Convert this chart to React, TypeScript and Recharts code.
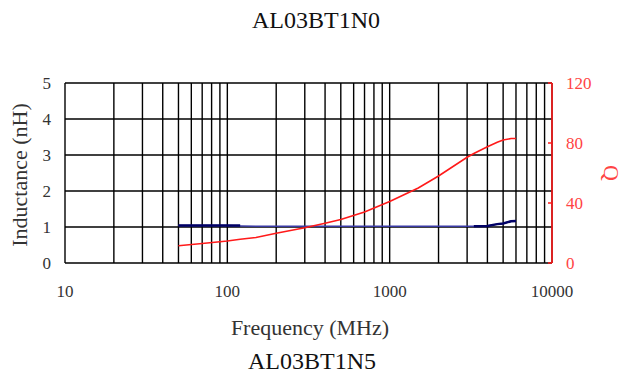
import { LineChart, Line, XAxis, YAxis, CartesianGrid } from "recharts";

const FREQ = [50, 70, 100, 120, 150, 200, 300, 400, 500, 700, 1000, 1500, 2000, 3000, 3300, 4000, 4600, 5000, 5600, 6000];
const Q_VALUES = [11.5, 13, 14.7, 15.8, 17, 19.8, 23.5, 26.5, 29, 34, 41, 50, 58, 70.5, 73, 77.5, 80.5, 82, 83, 83];
const L_VALUES = [1.04, 1.04, 1.04, 1.03, 1.02, 1.02, 1.02, 1.02, 1.02, 1.02, 1.02, 1.02, 1.02, 1.02, 1.02, 1.03, 1.08, 1.1, 1.16, 1.17];
const L_MEASURED = [1.04, 1.04, 1.04, 1.04, null, null, null, null, null, null, null, null, null, null, 1.02, 1.03, 1.08, 1.1, 1.16, 1.17];

const GRID_TICKS = [
  10, 20, 30, 40, 50, 60, 70, 80, 90,
  100, 200, 300, 400, 500, 600, 700, 800, 900,
  1000, 2000, 3000, 4000, 5000, 6000, 7000, 8000, 9000,
  10000,
];
const LABEL_TICKS = [10, 100, 1000, 10000];
const L_TICKS = [0, 1, 2, 3, 4, 5];
const Q_TICKS = [0, 40, 80, 120];

const data = FREQ.map((f, i) => ({ f, q: Q_VALUES[i], l: L_VALUES[i], lm: L_MEASURED[i] }));

const FONT = "'Liberation Serif', 'Times New Roman', serif";
const RED = "#ff1a1a";

function QTick(props: any) {
  const { x, y, payload } = props;
  return (
    <g>
      <line x1={x - 18} x2={x - 14} y1={y} y2={y} stroke={RED} strokeWidth={1.5} />
      <text x={x} y={y + 6} fill="#ff4444" fontSize={17} fontFamily={FONT} textAnchor="start">
        {payload.value}
      </text>
    </g>
  );
}

export default function App() {
  return (
    <div style={{ position: "absolute", left: 0, top: 0, width: 624, height: 377, background: "#fff" }}>
      <LineChart width={624} height={377} data={data} margin={{ top: 83, right: 0, bottom: 84, left: 0 }}>
        <CartesianGrid yAxisId="l" stroke="#000" strokeWidth={1.4} />
        <XAxis
          dataKey="f"
          type="number"
          scale="log"
          domain={[10, 10000]}
          ticks={GRID_TICKS}
          interval={0}
          tickFormatter={(v: number) => (LABEL_TICKS.includes(v) ? String(v) : "")}
          tickLine={false}
          axisLine={false}
          tickSize={0}
          tickMargin={22}
          height={30}
          tick={{ fill: "#333", fontSize: 17, fontFamily: FONT }}
          allowDataOverflow
        />
        <YAxis
          yAxisId="l"
          domain={[0, 5]}
          ticks={L_TICKS}
          width={65}
          tickLine={false}
          axisLine={false}
          tickSize={0}
          tickMargin={14}
          tick={{ fill: "#333", fontSize: 17, fontFamily: FONT }}
        />
        <YAxis
          yAxisId="q"
          orientation="right"
          domain={[0, 120]}
          ticks={Q_TICKS}
          width={72}
          tickLine={false}
          axisLine={{ stroke: RED, strokeWidth: 1.6 }}
          tickSize={0}
          tickMargin={14}
          tick={<QTick />}
        />
        <Line yAxisId="l" dataKey="l" stroke="#3a3aa6" strokeWidth={1.5} dot={false} isAnimationActive={false} />
        <Line yAxisId="l" dataKey="lm" stroke="#000066" strokeWidth={2.5} dot={false} connectNulls={false} isAnimationActive={false} />
        <Line yAxisId="q" dataKey="q" stroke={RED} strokeWidth={1.6} dot={false} isAnimationActive={false} />
      </LineChart>
      <svg width={624} height={377} style={{ position: "absolute", left: 0, top: 0, pointerEvents: "none" }}>
        <text x={316} y={28} textAnchor="middle" fontSize={24} fontFamily={FONT} fill="#111">AL03BT1N0</text>
        <text x={27} y={175} transform="rotate(-90 27 175)" textAnchor="middle" fontSize={22} fontFamily={FONT} fill="#333">Inductance (nH)</text>
        <text x={604} y={173} transform="rotate(90 604 173)" textAnchor="middle" fontSize={22} fontFamily={FONT} fill="#ff4444">Q</text>
        <text x={310} y={335} textAnchor="middle" fontSize={22} fontFamily={FONT} fill="#333">Frequency (MHz)</text>
        <text x={312} y={369} textAnchor="middle" fontSize={24} fontFamily={FONT} fill="#111">AL03BT1N5</text>
      </svg>
    </div>
  );
}
